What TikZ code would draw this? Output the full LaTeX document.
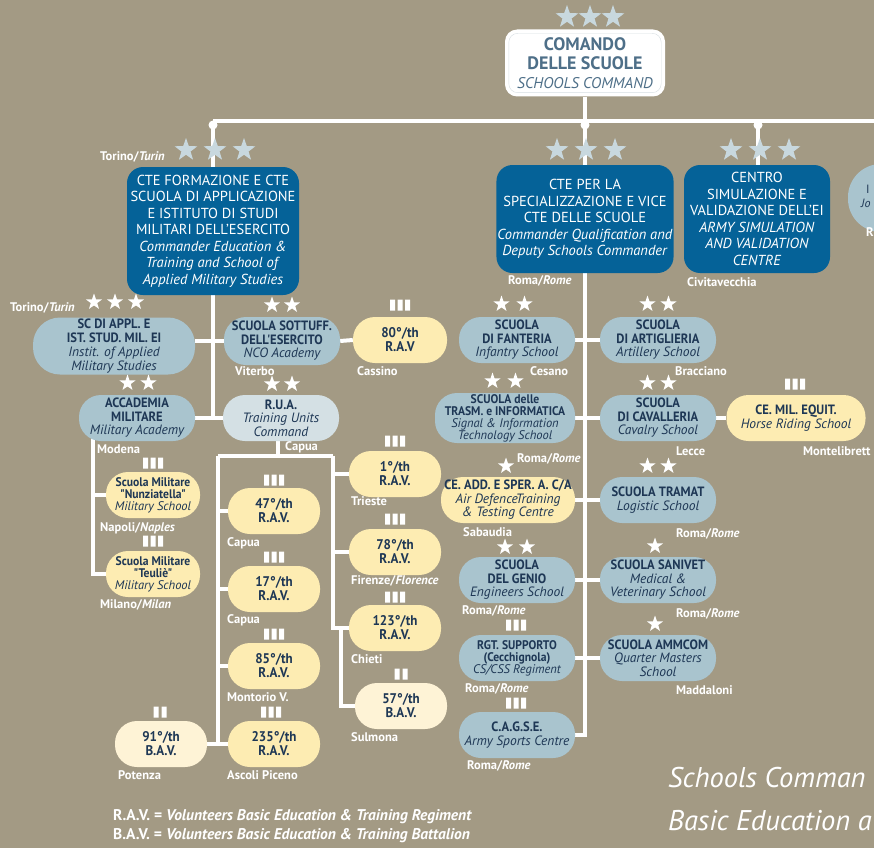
\documentclass[tikz,border=0pt]{standalone}
\usepackage{fontspec}
\setmainfont{PT Sans}
\newfontfamily\narrowfont{PT Sans}[FakeStretch=0.93]
\usetikzlibrary{shapes.geometric,backgrounds}

\definecolor{sand}{RGB}{163,154,132}
\definecolor{cmdblue}{RGB}{5,98,152}
\definecolor{paleblue}{RGB}{169,196,206}
\definecolor{mistblue}{RGB}{212,224,228}
\definecolor{ravyellow}{RGB}{253,236,178}
\definecolor{bavyellow}{RGB}{254,243,214}
\definecolor{navy}{RGB}{30,55,85}
\definecolor{hqtext}{RGB}{78,111,136}
\definecolor{starblue}{RGB}{200,216,222}
\definecolor{hqline}{RGB}{215,222,226}

% english line of a box
\newcommand{\en}[1]{{\rmfamily\mdseries\itshape #1}}
% count, style, x, y, gap
\newcommand{\rankstars}[5]{%
  \foreach \k in {1,...,#1}
    \node[#2] (#2-#3-#4-\k) at ({#3+(\k-(#1+1)/2)*#5},#4) {};}

\begin{document}
\begin{tikzpicture}[x=1pt, y=-1pt,
    link/.style={draw=white, line width=4pt},
    hqbox/.style={fill=white, rounded corners=12pt, minimum width=160pt, minimum height=67pt,
      text=hqtext, align=center, inner sep=1pt, font=\bfseries\fontsize{18}{19}\selectfont},
    cmdbox/.style={fill=cmdblue, text=white, rounded corners=16pt, align=center, inner sep=1pt,
      font=\fontsize{14.5}{16.5}\selectfont},
    school/.style={fill=paleblue, text=navy, rounded corners=22pt, align=center, inner sep=1pt,
      minimum width=116pt, minimum height=46pt, font=\narrowfont\bfseries\fontsize{13.5}{13.5}\selectfont},
    tight/.style={font=\narrowfont\bfseries\fontsize{12.5}{12}\selectfont},
    ravbox/.style={school, fill=ravyellow, minimum width=92pt, font=\narrowfont\bfseries\fontsize{14}{14}\selectfont},
    bavbox/.style={ravbox, fill=bavyellow},
    place/.style={anchor=west, inner sep=0pt, text=white, font=\bfseries\fontsize{12.5}{12}\selectfont},
    rankstar/.style={star, star points=5, star point ratio=2.5, fill=white, inner sep=0pt, minimum size=17pt},
    hqstar/.style={rankstar, fill=starblue, minimum size=24pt},
    regbars/.pic={\fill[white] (-10,-5.5) rectangle (-5,5.5) (-2.5,-5.5) rectangle (2.5,5.5) (5,-5.5) rectangle (10,5.5);},
    batbars/.pic={\fill[white] (-6.5,-5.5) rectangle (-1.5,5.5) (1.5,-5.5) rectangle (6.5,5.5);}]

\begin{scope}[on background layer]
  \fill[sand] (0,0) rectangle (874,848);
\end{scope}
\useasboundingbox (0,0) rectangle (874,848);

% top
\node[hqbox] (hq) at (585,63) {COMANDO\\DELLE SCUOLE\\\en{\fontsize{15.5}{19}\selectfont SCHOOLS COMMAND}};
\draw[hqline, rounded corners=9pt] ([shift={(4,4)}]hq.north west) rectangle ([shift={(-4,-4)}]hq.south east);
\rankstars{3}{hqstar}{590}{17}{23}

\node[cmdbox, minimum width=172pt, minimum height=128pt] (cfor) at (213,231)
  {CTE FORMAZIONE E CTE\\SCUOLA DI APPLICAZIONE\\E ISTITUTO DI STUDI\\MILITARI DELL'ESERCITO\\
   \textit{Commander Education \&}\\\textit{Training and School of}\\\textit{Applied Military Studies}};
\node[cmdbox, minimum width=170pt, minimum height=108pt] (cspec) at (585,219)
  {CTE PER LA\\SPECIALIZZAZIONE E VICE\\CTE DELLE SCUOLE\\
   \textit{Commander Qualification and}\\\textit{Deputy Schools Commander}};
\node[cmdbox, minimum width=146pt, minimum height=108pt] (csim) at (757,219)
  {CENTRO\\SIMULAZIONE E\\VALIDAZIONE DELL'EI\\\textit{ARMY SIMULATION}\\\textit{AND VALIDATION}\\\textit{CENTRE}};
\node[school, minimum width=104pt, minimum height=68pt, rounded corners=33pt] (joint) at (900,198) {};
\node[place, text=navy, font=\fontsize{12}{12}\selectfont] (joint-a) at (866,189) {I};
\node[place, text=navy, font=\itshape\fontsize{12}{12}\selectfont] (joint-b) at (861,203) {Jo};
\rankstars{3}{hqstar}{215}{150}{29}
\rankstars{3}{hqstar}{586}{150}{29}
\rankstars{3}{hqstar}{760}{150}{29}
\node[place] (l-cfor) at (100,157) {Torino/\textit{Turin}};
\node[place] (l-cspec) at (508,281) {Roma/\textit{Rome}};
\node[place] (l-csim) at (687,282) {Civitavecchia};
\node[place] (l-joint) at (866,232) {R};

% left branch
\node[school, minimum width=162pt, minimum height=57pt, rounded corners=27pt, font=\narrowfont\bfseries\fontsize{13.5}{14}\selectfont] (scappl) at (114,346)
  {SC DI APPL. E\\IST. STUD. MIL. EI\\\en{Instit. of Applied}\\\en{Military Studies}};
\node[school, minimum height=48pt] (sottuff) at (282,341) {SCUOLA SOTTUFF.\\DELL'ESERCITO\\\en{NCO Academy}};
\node[ravbox, minimum width=94pt] (rav80) at (400,340) {80°/th\\R.A.V};
\node[school] (accad) at (137,418) {ACCADEMIA\\MILITARE\\\en{Military Academy}};
\node[school, fill=mistblue] (rua) at (281,418) {R.U.A.\\\en{Training Units}\\\en{Command}};
\node[school, tight, fill=ravyellow, minimum width=94pt] (nunz) at (153,495)
  {Scuola Militare\\"Nunziatella"\\\en{Military School}};
\node[school, tight, fill=ravyellow, minimum width=94pt] (teulie) at (153,574)
  {Scuola Militare\\"Teuliè"\\\en{Military School}};
\node[ravbox] (rav47) at (274,511) {47°/th\\R.A.V.};
\node[ravbox] (rav17) at (274,589) {17°/th\\R.A.V.};
\node[ravbox] (rav85) at (274,666) {85°/th\\R.A.V.};
\node[ravbox] (rav235) at (274,744) {235°/th\\R.A.V.};
\node[bavbox] (bav91) at (161,744) {91°/th\\B.A.V.};
\node[ravbox] (rav1) at (395,474) {1°/th\\R.A.V.};
\node[ravbox] (rav78) at (395,552) {78°/th\\R.A.V.};
\node[ravbox] (rav123) at (395,628) {123°/th\\R.A.V.};
\node[bavbox] (bav57) at (401,706) {57°/th\\B.A.V.};

\rankstars{3}{rankstar}{115}{302}{21}
\rankstars{2}{rankstar}{282}{305}{20}
\rankstars{2}{rankstar}{138}{383}{21}
\rankstars{2}{rankstar}{282}{384}{20}
\pic at (400,305) {regbars};
\pic at (153,463) {regbars};
\pic at (153,541) {regbars};
\pic at (274,480) {regbars};
\pic at (274,557) {regbars};
\pic at (274,634) {regbars};
\pic at (271,712) {regbars};
\pic at (160,712) {batbars};
\pic at (395,441) {regbars};
\pic at (395,519) {regbars};
\pic at (395,597) {regbars};
\pic at (401,674) {batbars};

\node[place] (l-scappl) at (10,308) {Torino/\textit{Turin}};
\node[place] (l-sottuff) at (235,371) {Viterbo};
\node[place] (l-rav80) at (357,371) {Cassino};
\node[place] (l-accad) at (97,449) {Modena};
\node[place] (l-rua) at (285,447) {Capua};
\node[place] (l-nunz) at (100,528) {Napoli/\textit{Naples}};
\node[place] (l-teulie) at (100,605) {Milano/\textit{Milan}};
\node[place] (l-rav47) at (227,543) {Capua};
\node[place] (l-rav17) at (227,620) {Capua};
\node[place] (l-rav85) at (227,697) {Montorio V.};
\node[place] (l-rav235) at (227,775) {Ascoli Piceno};
\node[place] (l-bav91) at (118,775) {Potenza};
\node[place] (l-rav1) at (351,501) {Trieste};
\node[place] (l-rav78) at (351,581) {Firenze/\textit{Florence}};
\node[place] (l-rav123) at (351,659) {Chieti};
\node[place] (l-bav57) at (351,737) {Sulmona};

% middle branch
\node[school] (fant) at (517,340) {SCUOLA\\DI FANTERIA\\\en{Infantry School}};
\node[school, tight, minimum width=140pt, minimum height=50pt] (trasm) at (505,418)
  {SCUOLA delle\\TRASM. e INFORMATICA\\\en{Signal \& Information}\\\en{Technology School}};
\node[school, fill=ravyellow, minimum width=134pt] (ceadd) at (508,500)
  {CE. ADD. E SPER. A. C/A\\\en{Air DefenceTraining}\\\en{\& Testing Centre}};
\node[school] (genio) at (517,580) {SCUOLA\\DEL GENIO\\\en{Engineers School}};
\node[school, tight] (rgt) at (517,658) {RGT. SUPPORTO\\(Cecchignola)\\\en{CS/CSS Regiment}};
\node[school] (cagse) at (517,735) {C.A.G.S.E.\\\en{Army Sports Centre}};
\node[school] (art) at (658,340) {SCUOLA\\DI ARTIGLIERIA\\\en{Artillery School}};
\node[school] (caval) at (658,418) {SCUOLA\\DI CAVALLERIA\\\en{Cavalry School}};
\node[school, fill=ravyellow, minimum width=139pt] (equit) at (796,418) {CE. MIL. EQUIT.\\\en{Horse Riding School}};
\node[school] (tramat) at (658,500) {SCUOLA TRAMAT\\\en{Logistic School}};
\node[school] (sanivet) at (658,580) {SCUOLA SANIVET\\\en{Medical \&}\\\en{Veterinary School}};
\node[school] (ammcom) at (658,658) {SCUOLA AMMCOM\\\en{Quarter Masters}\\\en{School}};

\rankstars{2}{rankstar}{513}{304}{23}
\rankstars{2}{rankstar}{504}{381}{23}
\rankstars{1}{rankstar}{506}{466}{0}
\rankstars{2}{rankstar}{516}{547}{22}
\pic at (516,625) {regbars};
\pic at (516,703) {regbars};
\rankstars{2}{rankstar}{658}{304}{21}
\rankstars{2}{rankstar}{658}{383}{21}
\pic at (795,384) {regbars};
\rankstars{2}{rankstar}{658}{466}{21}
\rankstars{1}{rankstar}{655}{546}{0}
\rankstars{1}{rankstar}{655}{624}{0}

\node[place] (l-fant) at (530,371) {Cesano};
\node[place] (l-trasm) at (517,459) {Roma/\textit{Rome}};
\node[place] (l-ceadd) at (463,532) {Sabaudia};
\node[place] (l-genio) at (462,611) {Roma/\textit{Rome}};
\node[place] (l-rgt) at (465,689) {Roma/\textit{Rome}};
\node[place] (l-cagse) at (467,766) {Roma/\textit{Rome}};
\node[place] (l-art) at (675,371) {Bracciano};
\node[place] (l-caval) at (676,451) {Lecce};
\node[place] (l-equit) at (803,451) {Montelibrett};
\node[place] (l-tramat) at (676,534) {Roma/\textit{Rome}};
\node[place] (l-sanivet) at (676,614) {Roma/\textit{Rome}};
\node[place] (l-ammcom) at (676,690) {Maddaloni};

% legend
\node[place, font=\bfseries\fontsize{15.5}{15}\selectfont] (key-rav) at (113,817)
  {R.A.V. = \textit{Volunteers Basic Education \& Training Regiment}};
\node[place, font=\bfseries\fontsize{15.5}{15}\selectfont] (key-bav) at (113,836)
  {B.A.V. = \textit{Volunteers Basic Education \& Training Battalion}};
\node[place, font=\mdseries\itshape\fontsize{28.5}{30}\selectfont] (title-a) at (668,778) {Schools Comman};
\node[place, font=\mdseries\itshape\fontsize{28.5}{30}\selectfont] (title-b) at (668,821) {Basic Education a};

% connectors
\begin{scope}[on background layer]
  \coordinate (barW) at (213,121);
  \coordinate (barE) at (880,121);
  \draw[link] (barW) -- (barE);
  \draw[link] (hq.south) -- (hq.south |- barW);
  \draw[link] (barW) -- (cfor.north);
  \draw[link] (cspec.north |- barW) -- (cspec.north);
  \draw[link] (758,121) -- (758,165);
  \fill[white] (213,125) circle (4.5) (585,125) circle (4.5) (758,125) circle (4.5);

  \draw[link] (cfor.south) -- (cfor.south |- rua.west);
  \draw[link] (scappl.east |- sottuff.west) -- (sottuff.west);
  \draw[link] (sottuff.east) -- (rav80.west);
  \draw[link] (accad.east) -- (rua.west);
  \coordinate (accSpine) at (93,430);
  \draw[link] (accSpine) |- (teulie.west);
  \draw[link] (accSpine |- nunz.west) -- (nunz.west);

  \coordinate (ruaL) at (218,456);
  \coordinate (ruaR) at (333,456);
  \draw[link] (278,440) -- (278,456);
  \draw[link] (ruaL) -- (ruaR);
  \draw[link] (ruaL) |- (rav235.west);
  \draw[link] (ruaL |- rav47.west) -- (rav47.west);
  \draw[link] (ruaL |- rav17.west) -- (rav17.west);
  \draw[link] (ruaL |- rav85.west) -- (rav85.west);
  \draw[link] (bav91.east) -- (rav235.west);
  \draw[link] (ruaR) |- (rav123.west);
  \draw[link] (ruaR |- rav1.west) -- (rav1.west);
  \draw[link] (ruaR |- rav78.west) -- (rav78.west);
  \coordinate (bavTurn) at (341,628);
  \draw[link] (bavTurn) |- (bav57.west);

  \draw[link] (cspec.south) |- (cagse.east);
  \draw[link] (fant.east) -- (art.west);
  \draw[link] (trasm.east) -- (caval.west);
  \draw[link] (ceadd.east) -- (tramat.west);
  \draw[link] (genio.east) -- (sanivet.west);
  \draw[link] (rgt.east) -- (ammcom.west);
  \draw[link] (caval.east) -- (equit.west);
\end{scope}
\end{tikzpicture}
\end{document}
